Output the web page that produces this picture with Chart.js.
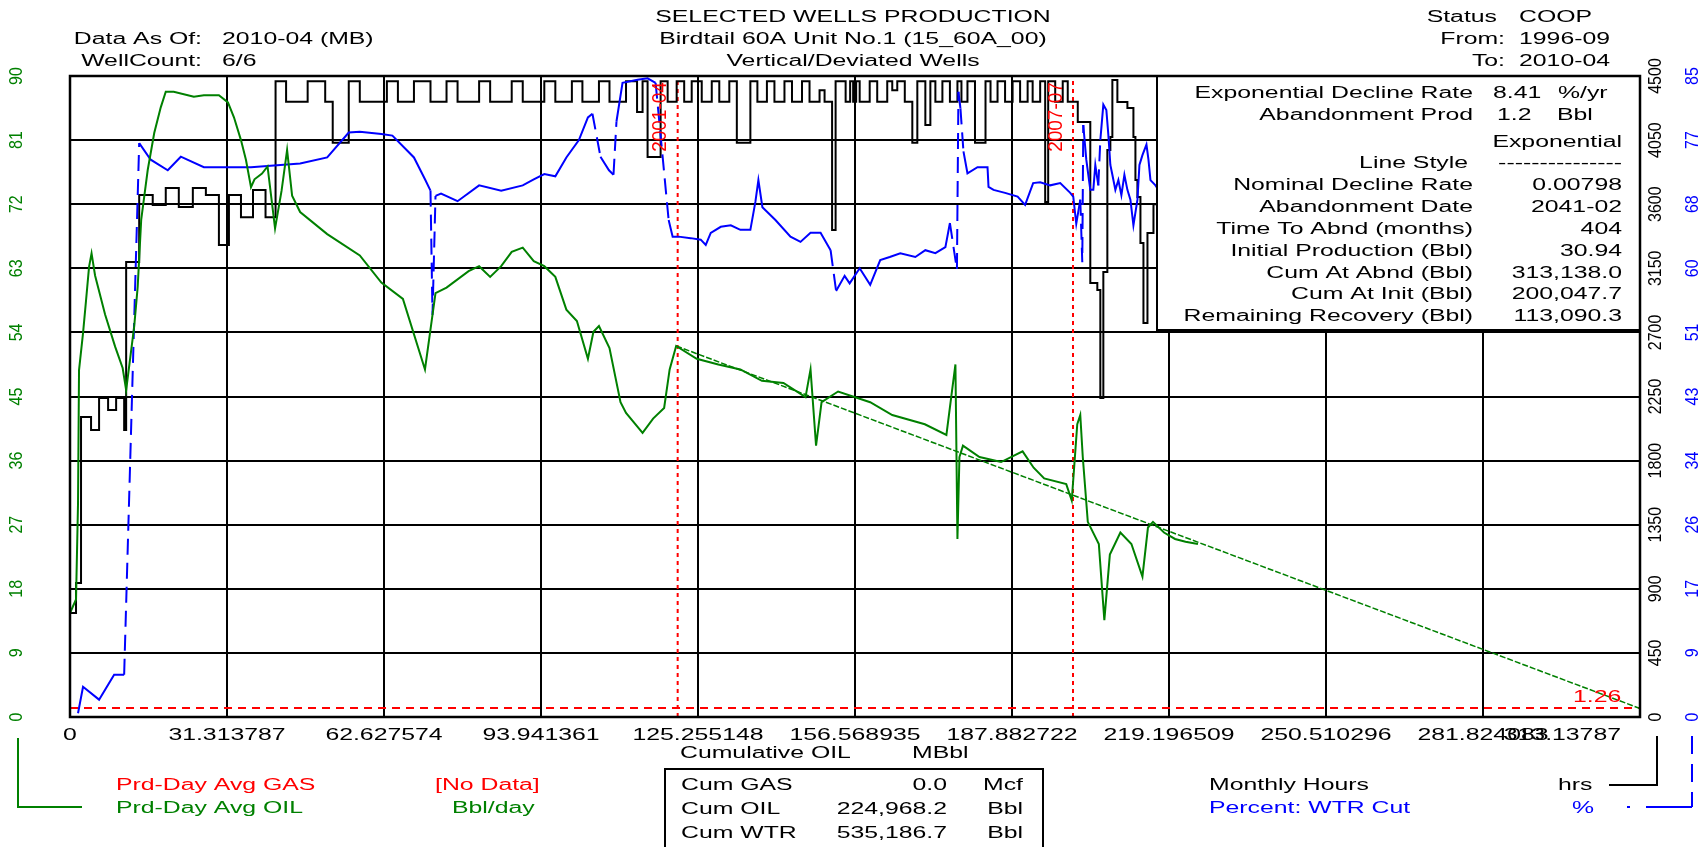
<!DOCTYPE html>
<html lang="en">
<head>
<meta charset="UTF-8">
<title>selected wells production</title>
<script src="https://cdn.jsdelivr.net/npm/chart.js@4"></script>
<style>
	html,body{margin:0;padding:0;background:#fff;}
	#wrap{position:relative;width:1705px;height:847px;}
</style>
</head>
<body>
<div id="wrap"><canvas id="c" width="1705" height="847"></canvas></div>
<script>

// x axis: cumulative oil, MBbl
var xTickValues=[0,31.313787,62.627574,93.941361,125.255148,156.568935,187.882722,219.196509,250.510296,281.824083,313.13787];
var xTickLabels=['0','31.313787','62.627574','93.941361','125.255148','156.568935','187.882722','219.196509','250.510296','281.824083','313.13787'];
var oilTicks=[0,9,18,27,36,45,54,63,72,81,90];
var hrsTicks=[0,450,900,1350,1800,2250,2700,3150,3600,4050,4500];
var wtrTicks=[0,8.5,17,25.5,34,42.5,51,59.5,68,76.5,85];
var wtrTickLabels=['0','9','17','26','34','43','51','60','68','77','85'];

// Prd-Day Avg OIL (Bbl/day) vs cum oil
var oilRate=[[0.0,14.6],[1.2,16.5],[1.6,30.0],[1.8,48.7],[2.6,53.9],[3.2,58.5],[3.8,63.2],[4.3,65.1],[5.0,62.0],[7.0,56.5],[9.0,52.0],[10.5,49.0],[11.2,45.9],[12.8,54.8],[13.5,60.4],[14.2,69.8],[15.5,76.8],[16.8,82.0],[18.1,85.6],[19.1,87.8],[20.7,87.8],[24.7,87.1],[26.7,87.3],[29.7,87.3],[31.5,86.3],[32.7,84.2],[34.1,81.0],[35.1,78.2],[36.1,74.4],[36.8,75.5],[38.3,76.3],[39.4,77.3],[40.9,68.6],[42.2,73.9],[43.3,79.6],[44.3,73.2],[45.9,70.9],[51.3,67.8],[57.8,64.8],[62.1,61.0],[66.4,58.7],[70.8,48.8],[72.9,59.5],[75.1,60.3],[79.5,62.6],[81.6,63.3],[83.8,61.8],[86.0,63.3],[88.1,65.3],[90.3,65.9],[92.5,64.0],[94.6,63.3],[96.8,61.8],[99.0,57.2],[101.1,55.6],[103.3,50.3],[104.4,54.1],[105.5,54.9],[107.6,51.8],[109.8,44.2],[110.9,42.7],[114.2,39.9],[116.3,41.9],[118.5,43.4],[119.6,48.8],[120.9,52.1],[125.0,50.3],[129.3,49.5],[133.7,48.8],[138.0,47.2],[142.3,46.9],[146.7,44.9],[147.7,48.8],[148.8,38.1],[149.9,44.2],[153.2,45.7],[159.6,44.2],[164.0,42.4],[170.5,41.1],[174.8,39.6],[175.9,45.7],[176.6,49.5],[177.0,25.0],[177.4,36.5],[178.1,38.1],[181.4,36.5],[185.7,35.8],[190.0,37.3],[192.2,35.0],[194.3,33.5],[198.7,32.7],[199.8,30.4],[200.9,41.1],[201.5,42.4],[202.0,36.5],[203.0,27.4],[205.2,24.3],[206.3,13.6],[207.4,22.8],[209.5,25.9],[211.7,24.3],[213.9,19.7],[215.0,26.6],[216.0,27.4],[218.2,25.9],[220.4,25.0],[222.5,24.6],[224.97,24.3]];

// exponential forecast, start and abandonment
var forecast=[[120.9,52.1],[313.13787,1.2]];
var abandonRate=1.26;

// Percent WTR cut
var wtrCut=[[1.6,0.5],[2.6,4.0],[5.8,2.3],[8.8,5.6],[10.8,5.6],[13.8,76.1],[16.1,73.9],[19.5,72.5],[22.1,74.3],[26.7,72.9],[36.1,72.9],[45.9,73.4],[51.3,74.2],[55.6,77.5],[57.8,77.6],[62.1,77.3],[64.3,77.1],[68.6,74.2],[70.8,71.3],[71.9,69.8],[72.3,53.3],[72.9,69.1],[74.0,69.4],[77.3,68.4],[81.6,70.5],[86.0,69.8],[90.3,70.5],[92.5,71.3],[94.6,72.0],[96.8,71.7],[99.0,74.2],[101.5,76.5],[103.3,79.5],[104.2,80.0],[105.8,74.3],[107.5,72.5],[108.4,71.9],[109.0,79.0],[110.2,84.1],[113.2,84.5],[115.2,84.7],[116.8,84.1],[119.4,65.9],[120.2,63.7],[121.4,63.7],[123.8,63.5],[125.8,63.3],[126.8,62.6],[127.8,64.2],[129.8,65.0],[131.8,65.2],[133.7,64.6],[135.7,64.6],[136.7,68.3],[137.3,71.2],[138.1,67.6],[140.7,65.9],[143.7,63.7],[145.7,63.0],[147.7,64.2],[149.7,64.2],[151.7,61.9],[152.8,56.5],[154.5,58.5],[155.5,57.5],[157.5,59.5],[159.6,57.3],[161.6,60.6],[163.5,61.0],[165.6,61.5],[168.6,61.0],[170.6,61.9],[172.6,61.5],[174.6,62.3],[175.5,65.5],[176.9,59.3],[177.2,82.9],[177.6,80.7],[178.2,75.0],[179.0,72.1],[181.0,72.9],[183.0,72.9],[183.2,70.3],[184.2,69.9],[186.5,69.5],[189.0,69.0],[190.5,67.9],[192.1,70.8],[193.5,70.9],[195.5,70.5],[197.5,70.8],[199.5,69.5],[200.1,69.0],[200.7,65.4],[201.5,68.6],[201.9,60.3],[202.1,78.5],[202.7,73.9],[203.5,69.9],[204.1,69.9],[204.5,73.2],[205.1,70.5],[205.5,76.5],[206.1,81.2],[206.7,80.5],[207.1,77.2],[207.5,73.2],[207.9,71.9],[208.5,69.9],[209.1,71.2],[209.7,69.2],[210.3,71.9],[210.9,69.9],[211.5,68.6],[212.1,65.2],[212.9,68.6],[213.3,73.2],[213.9,74.5],[214.7,75.9],[215.1,73.9],[215.5,71.2],[216.5,70.5],[218.0,69.0],[221.0,70.0],[224.97,68.0]];

// Monthly hours, level starts at x
var monthlyHours=[[0,611],[1.2,730],[2.2,941],[4.2,2106],[5.8,2015],[7.6,2240],[9.2,2155],[10.8,2240],[11.2,2015],[13.8,3194],[16.5,3664],[19.1,3594],[21.7,3714],[24.5,3580],[27.1,3714],[29.7,3664],[31.7,3313],[34.1,3664],[36.5,3508],[39.0,3699],[41.0,3508],[43.1,4464],[47.4,4320],[50.9,4464],[52.4,4320],[55.6,4032],[57.8,4464],[63.2,4320],[65.4,4464],[68.6,4320],[71.9,4464],[75.1,4320],[77.3,4464],[81.6,4320],[83.8,4464],[88.1,4320],[90.3,4464],[94.6,4320],[96.8,4464],[100.1,4320],[102.2,4464],[105.5,4320],[107.6,4464],[110.9,4320],[113.1,4464],[114.2,4247],[115.2,4464],[117.8,3931],[119.2,4464],[121.0,4320],[122.5,4464],[124.0,4320],[126.0,4464],[128.0,4320],[129.5,4464],[131.5,4320],[133.0,4464],[135.7,4032],[137.1,4464],[139.0,4320],[140.5,4464],[142.5,4320],[144.0,4464],[146.0,4320],[147.5,4464],[149.5,4320],[150.5,4400],[152.0,4320],[152.7,3419],[154.7,4464],[155.6,4320],[156.2,4464],[156.8,4320],[157.5,4464],[159.5,4320],[161.0,4464],[163.0,4320],[164.0,4464],[165.0,4400],[166.5,4464],[168.0,4320],[169.0,4032],[170.6,4464],[171.6,4156],[172.6,4464],[174.0,4320],[175.5,4464],[177.0,4320],[177.8,4464],[179.0,4320],[180.5,4464],[182.6,4032],[183.6,4464],[185.0,4320],[186.5,4464],[188.0,4320],[189.5,4464],[191.0,4320],[192.0,4464],[193.5,4320],[194.5,4464],[195.1,3615],[196.5,4464],[198.0,4320],[199.0,4464],[201.0,4320],[203.5,4177],[204.9,3047],[205.5,2998],[206.1,2239],[206.9,3124],[207.5,3980],[207.9,4072],[208.9,4472],[210.9,4317],[212.1,4275],[212.5,4072],[212.9,3770],[213.5,3650],[214.1,3327],[214.9,2766],[216.1,3398],[218.0,3600],[221.0,3400],[224.97,3400]];

// date markers on the cum axis
var markerCum=[121.2,200.05];
var markerDates=['2001-04','2007-07'];

var infoLabels=['Nominal Decline Rate','Abandonment Date','Time To Abnd (months)','Initial Production (Bbl)','Cum At Abnd (Bbl)','Cum At Init (Bbl)','Remaining Recovery (Bbl)'];
var infoValues=['0.00798','2041-02','404','30.94','313,138.0','200,047.7','113,090.3'];
var cumNames=['Cum GAS','Cum OIL','Cum WTR'];
var cumValues=['0.0','224,968.2','535,186.7'];
var cumUnits=['Mcf','Bbl','Bbl'];

var GREEN='#008000',BLUE='#0000ff',RED='#ff0000',BLACK='#000000';
var FONT='"Liberation Sans", Arial, sans-serif';
var SX=1.55;

function pts(a){return a.map(function(p){return {x:p[0],y:p[1]};});}

function put(ctx,s,x,y,color,align,size,rot,sx){
	ctx.save();
	ctx.translate(x,y);
	if(rot){ctx.rotate(-Math.PI/2);ctx.scale(1,sx||SX);}
	else ctx.scale(sx||SX,1);
	ctx.font=(size||16)+'px '+FONT;
	ctx.fillStyle=color;
	ctx.textAlign=align||'left';
	ctx.textBaseline='middle';
	ctx.fillText(s,0,0);
	ctx.restore();
}
function seg(ctx,coords,color,w,dash){
	ctx.save();
	ctx.strokeStyle=color;ctx.lineWidth=w||2;
	ctx.setLineDash(dash||[]);
	ctx.beginPath();
	ctx.moveTo(coords[0],coords[1]);
	for(var i=2;i<coords.length;i+=2) ctx.lineTo(coords[i],coords[i+1]);
	ctx.stroke();
	ctx.restore();
}

var textPlugin={
	id:'legacyText',
	afterDraw:function(chart){
		var ctx=chart.ctx,a=chart.chartArea,s=chart.scales;

		// header
		put(ctx,'SELECTED WELLS PRODUCTION',853,18,BLACK,'center');
		put(ctx,'Birdtail 60A Unit No.1 (15_60A_00)',853,40,BLACK,'center');
		put(ctx,'Vertical/Deviated Wells',853,62,BLACK,'center');
		put(ctx,'Data As Of:',202,40,BLACK,'right');
		put(ctx,'2010-04 (MB)',222,40,BLACK,'left');
		put(ctx,'WellCount:',202,62,BLACK,'right');
		put(ctx,'6/6',222,62,BLACK,'left');
		put(ctx,'Status',1497,18,BLACK,'right');
		put(ctx,'COOP',1519,18,BLACK,'left');
		put(ctx,'From:',1505,40,BLACK,'right');
		put(ctx,'1996-09',1519,40,BLACK,'left');
		put(ctx,'To:',1505,62,BLACK,'right');
		put(ctx,'2010-04',1519,62,BLACK,'left');

		// info box over the plot
		var bx=1157,by=a.top,bw=a.right-1157,bh=330-a.top;
		ctx.save();
		ctx.fillStyle='#fff';ctx.fillRect(bx,by,bw,bh);
		ctx.strokeStyle=BLACK;ctx.lineWidth=2;ctx.strokeRect(bx,by,bw,bh);
		ctx.restore();
		put(ctx,'Exponential Decline Rate',1473,94,BLACK,'right');
		put(ctx,'8.41',1493,94,BLACK,'left');
		put(ctx,'%/yr',1558,94,BLACK,'left');
		put(ctx,'Abandonment Prod',1473,116,BLACK,'right');
		put(ctx,'1.2',1497,116,BLACK,'left');
		put(ctx,'Bbl',1557,116,BLACK,'left');
		put(ctx,'Exponential',1622,143,BLACK,'right');
		put(ctx,'Line Style',1468,164,BLACK,'right');
		put(ctx,'---------------',1622,164,BLACK,'right');
		infoLabels.forEach(function(l,i){
			var y=186+i*21.8;
			put(ctx,l,1473,y,BLACK,'right');
			put(ctx,infoValues[i],1622,y,BLACK,'right');
		});

		// frame
		ctx.save();
		ctx.strokeStyle=BLACK;ctx.lineWidth=2.5;
		ctx.strokeRect(a.left,a.top,a.right-a.left,a.bottom-a.top);
		ctx.restore();

		// y tick labels
		oilTicks.forEach(function(v){
			put(ctx,String(v),17,s.yOil.getPixelForValue(v),GREEN,'center',16,true,1.15);
		});
		hrsTicks.forEach(function(v){
			put(ctx,String(v),1656,s.yHrs.getPixelForValue(v),BLACK,'center',16,true,1.15);
		});
		wtrTicks.forEach(function(v,i){
			put(ctx,wtrTickLabels[i],1693,s.yWtr.getPixelForValue(v),BLUE,'center',16,true,1.15);
		});

		// x tick labels
		xTickValues.forEach(function(v,i){
			var last=i==xTickValues.length-1;
			put(ctx,xTickLabels[i],last?1621:s.x.getPixelForValue(v),736,BLACK,last?'right':'center');
		});
		put(ctx,'Cumulative OIL',680,754,BLACK,'left');
		put(ctx,'MBbl',912,754,BLACK,'left');

		// date labels by markers
		markerCum.forEach(function(v,i){
			put(ctx,markerDates[i],s.x.getPixelForValue(v)-17,117,RED,'center',19,true,1.1);
		});
		put(ctx,abandonRate.toFixed(2),1573,698,RED,'left');

		// left legend
		seg(ctx,[18,738,18,807,82,807],GREEN,2);
		put(ctx,'Prd-Day Avg GAS',116,786,RED,'left');
		put(ctx,'[No Data]',435,786,RED,'left');
		put(ctx,'Prd-Day Avg OIL',116,809,GREEN,'left');
		put(ctx,'Bbl/day',452,809,GREEN,'left');

		// cum box
		ctx.save();
		ctx.strokeStyle=BLACK;ctx.lineWidth=2;
		ctx.strokeRect(665,769,378,90);
		ctx.restore();
		cumNames.forEach(function(n,i){
			var y=786+i*24;
			put(ctx,n,681,y,BLACK,'left');
			put(ctx,cumValues[i],947,y,BLACK,'right');
			put(ctx,cumUnits[i],1023,y,BLACK,'right');
		});

		// right legend
		put(ctx,'Monthly Hours',1209,786,BLACK,'left');
		put(ctx,'hrs',1558,786,BLACK,'left');
		put(ctx,'Percent: WTR Cut',1209,809,BLUE,'left');
		put(ctx,'%',1572,809,BLUE,'left');
		seg(ctx,[1657,736,1657,785,1609,785],BLACK,2);
		seg(ctx,[1692,736,1692,807],BLUE,2,[18,10]);
		seg(ctx,[1692,807,1646,807],BLUE,2);
		seg(ctx,[1627,807,1630,807],BLUE,2);
	}
};

var gridOpts={color:BLACK,lineWidth:2,drawTicks:false};

var chart=new Chart(document.getElementById('c'),{
	type:'line',
	data:{datasets:[
		{label:'Prd-Day Avg OIL',data:pts(oilRate),yAxisID:'yOil',borderColor:GREEN,borderWidth:2},
		{label:'Exponential',data:pts(forecast),yAxisID:'yOil',borderColor:GREEN,borderWidth:1.5,borderDash:[6,2]},
		{label:'Percent: WTR Cut',data:pts(wtrCut),yAxisID:'yWtr',borderColor:BLUE,borderWidth:2,
			segment:{borderDash:function(c){
				var dx=Math.abs(c.p1.x-c.p0.x),dy=Math.abs(c.p1.y-c.p0.y);
				return (dy>40&&dy>3*dx)?[16,8]:undefined;
			}}},
		{label:'Monthly Hours',data:pts(monthlyHours),yAxisID:'yHrs',borderColor:BLACK,borderWidth:2,stepped:'after'},
		{label:'abandon',data:[{x:0,y:abandonRate},{x:313.13787,y:abandonRate}],yAxisID:'yOil',borderColor:RED,borderWidth:2,borderDash:[8,6]},
		{label:'m1',data:[{x:markerCum[0],y:0},{x:markerCum[0],y:90}],yAxisID:'yOil',borderColor:RED,borderWidth:2,borderDash:[4,4]},
		{label:'m2',data:[{x:markerCum[1],y:0},{x:markerCum[1],y:90}],yAxisID:'yOil',borderColor:RED,borderWidth:2,borderDash:[4,4]}
	]},
	options:{
		responsive:false,animation:false,devicePixelRatio:1,events:[],
		layout:{padding:{left:70,right:65,top:76,bottom:130}},
		plugins:{legend:{display:false},tooltip:{enabled:false}},
		elements:{point:{radius:0},line:{tension:0,fill:false}},
		scales:{
			x:{type:'linear',min:0,max:313.13787,
				afterBuildTicks:function(sc){sc.ticks=xTickValues.map(function(v){return {value:v};});},
				afterFit:function(sc){sc.height=0;},
				ticks:{display:false},grid:gridOpts,border:{display:false}},
			yOil:{type:'linear',position:'left',min:0,max:90,
				afterBuildTicks:function(sc){sc.ticks=oilTicks.map(function(v){return {value:v};});},
				afterFit:function(sc){sc.width=0;},
				ticks:{display:false},grid:gridOpts,border:{display:false}},
			yHrs:{type:'linear',display:false,min:0,max:4500},
			yWtr:{type:'linear',display:false,min:0,max:85}
		}
	},
	plugins:[textPlugin]
});
</script>
</body>
</html>
